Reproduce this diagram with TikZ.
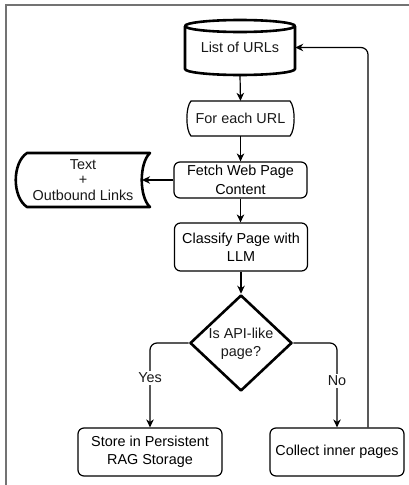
\documentclass[tikz,border=0pt]{standalone}
\usepackage{fontspec}
\setmainfont{Liberation Sans}
\usetikzlibrary{arrows.meta,shapes.geometric}
\begin{document}
\begin{tikzpicture}[x=1pt,y=-1pt,
  thinline/.style={line width=1.2pt,black},
  thickline/.style={line width=2.6pt,black,line join=round},
  txt/.style={font=\fontsize{14.4}{18.3}\selectfont,align=center,inner sep=0pt,text=black!90},
  roundbox/.style={txt,draw,thinline,rounded corners=6pt},
  conn/.style={thinline,-{Stealth[length=8pt,width=7.5pt,inset=2.5pt]},rounded corners=7pt},
  lbl/.style={font=\fontsize{14.4}{18.3}\selectfont,fill=white,inner sep=1.5pt,text=black!90}]
\useasboundingbox (0,0) rectangle (409,485);
% frame
\draw[line width=1.4pt,black!55] (6,485) -- (6,5) -- (409,5);

% List of URLs (cylinder)
\draw[thickline] (185,26) -- (185,69) arc[start angle=180,end angle=0,x radius=55,y radius=6] -- (295,26);
\draw[thickline] (240,26) ellipse[x radius=55,y radius=6];
\node[txt,minimum width=110pt,minimum height=55pt] (urls) at (240,47.5) {List of URLs};

% For each URL
\draw[thinline] (191,101) -- (290,101) .. controls (295.5,107) and (295.5,130) .. (290,136)
  -- (191,136) .. controls (185.5,130) and (185.5,107) .. (191,101) -- cycle;
\node[txt,minimum width=108pt,minimum height=35pt] (each) at (240.5,118.5) {For each URL};

% Fetch
\node[roundbox,minimum width=133pt,minimum height=36pt] (fetch) at (240.5,180) {Fetch Web Page\\Content};

% Text + Outbound links
\draw[thickline] (27,153) -- (150,153) .. controls (139,163) and (139,197) .. (150,207)
  -- (27,207) .. controls (12,197) and (12,163) .. (27,153) -- cycle;
\node[txt,font=\fontsize{14.4}{15.5}\selectfont,minimum width=120pt,minimum height=54pt] (tol) at (83,180) {Text\\+\\Outbound Links};
\coordinate (tolr) at (142,180);

% Classify
\node[roundbox,minimum width=133pt,minimum height=48pt] (cls) at (241,247) {Classify Page with\\LLM};

% Decision
\node[diamond,draw,thickline,minimum width=102pt,minimum height=96pt,inner sep=0pt] (dec) at (241,343) {};
\node[txt] (dect) at (241,344) {Is API-like\\page?};

% Store
\node[roundbox,minimum width=144pt,minimum height=48pt] (store) at (150,452) {Store in Persistent\\RAG Storage};
% Collect
\node[roundbox,minimum width=134pt,minimum height=48pt] (coll) at (337,452) {Collect inner pages};

% connectors
\draw[conn] (urls.south) -- (each.north);
\draw[conn] (each.south) -- (fetch.north);
\draw[conn] (fetch.west) -- (tolr);
\draw[conn] (fetch.south) -- (fetch.south |- cls.north);
\draw[conn] (cls.south -| dec.north) -- (dec.north);
\draw[conn] (dec.west) -| (store.north);
\draw[conn] (dec.east) -| (coll.north);
\coordinate (loopstart) at ([xshift=31pt]coll.north);
\draw[conn] (loopstart) |- (urls.east);

\node[lbl] (yes) at (150,378) {Yes};
\node[lbl] (no) at (337,381) {No};
\end{tikzpicture}
\end{document}
